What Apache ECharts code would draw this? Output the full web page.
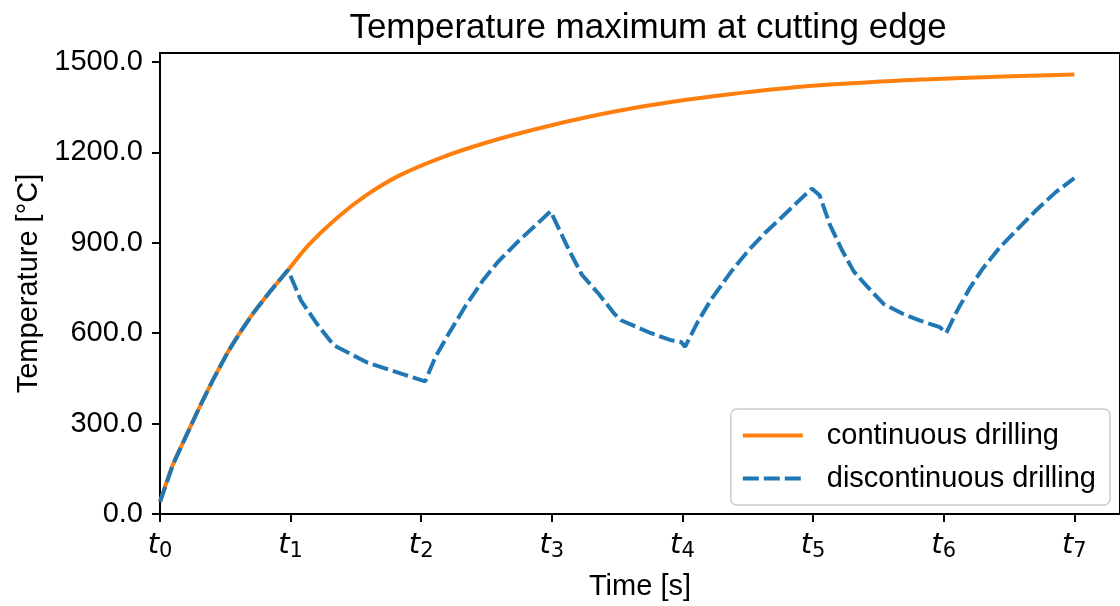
<!DOCTYPE html>
<html>
<head>
<meta charset="utf-8">
<script src="https://cdn.jsdelivr.net/npm/echarts@6/dist/echarts.min.js"></script>
<style>
  html, body { margin: 0; padding: 0; background: #fff; }
  #chart { width: 1120px; height: 606px; }
</style>
</head>
<body>
<div id="chart"></div>
<script>
// continuous drilling (orange)
const contTime = [0, 0.1, 0.2, 0.3, 0.4, 0.52, 0.62, 0.72, 0.84, 0.98, 1.14, 1.35, 1.58, 1.83, 2.16, 2.54, 2.92, 3.3, 3.66, 4.12, 4.88, 5.64, 6.4, 7.0];
const contTemp = [40, 165, 259, 352, 440, 538, 607, 670, 737, 810, 894, 981, 1058, 1123, 1184, 1238, 1282, 1320, 1350, 1380, 1417, 1438, 1451, 1459];

// discontinuous drilling (blue, dashed)
const discTime = [0, 0.1, 0.2, 0.3, 0.4, 0.52, 0.62, 0.72, 0.84, 0.98, 1.08, 1.21, 1.33, 1.59, 1.84, 2.03, 2.11, 2.21, 2.34, 2.47, 2.59, 2.75, 2.9, 2.99, 3.13, 3.23, 3.36, 3.48, 3.53, 3.76, 3.91, 3.99, 4.02, 4.12, 4.22, 4.37, 4.5, 4.63, 4.76, 4.88, 4.99, 5.05, 5.13, 5.22, 5.31, 5.41, 5.54, 5.69, 5.82, 5.97, 6.02, 6.1, 6.2, 6.3, 6.43, 6.56, 6.71, 6.86, 7.0];
const discTemp = [40, 165, 259, 352, 440, 538, 607, 670, 737, 810, 708, 626, 560, 502, 467, 440, 522, 598, 691, 774, 838, 908, 968, 1005, 877, 794, 730, 664, 643, 600, 577, 571, 555, 640, 712, 803, 872, 932, 985, 1035, 1080, 1058, 959, 877, 806, 757, 697, 664, 642, 620, 601, 672, 750, 815, 885, 943, 1009, 1069, 1115];

const xTicks = [0, 1, 2, 3, 4, 5, 6, 7];
const yTicks = [0, 300, 600, 900, 1200, 1500];

const seriesNames = ["continuous drilling", "discontinuous drilling"];

const font = '"Liberation Sans", Arial, sans-serif';
const mathFont = '"DejaVu Sans", sans-serif';

function zip(xs, ys) {
  return xs.map((x, i) => [x, ys[i]]);
}

const chart = echarts.init(document.getElementById("chart"), null, { renderer: "canvas" });

chart.setOption({
  animation: false,
  backgroundColor: "#ffffff",
  title: {
    text: "Temperature maximum at cutting edge",
    left: 643,
    top: 6,
    textAlign: "center",
    textStyle: { fontFamily: font, fontSize: 35, fontWeight: "normal", color: "#000" },
  },
  grid: {
    left: 160,
    right: -4,
    top: 53,
    bottom: 87,
    show: true,
    borderColor: "#000",
    borderWidth: 2,
  },
  legend: {
    orient: "vertical",
    right: 10,
    bottom: 101,
    data: seriesNames,
    itemWidth: 60,
    itemHeight: 27,
    itemGap: 14,
    padding: [12, 14, 12, 10],
    backgroundColor: "rgba(255,255,255,0.8)",
    borderColor: "#cccccc",
    borderWidth: 1.5,
    borderRadius: 6,
    itemStyle: { opacity: 0 },
    lineStyle: { width: 4 },
    textStyle: { fontFamily: font, fontSize: 29, lineHeight: 27, color: "#000", padding: [0, 0, 0, 19] },
  },
  xAxis: {
    type: "value",
    min: 0,
    max: 7.35,
    interval: 1,
    name: "Time [s]",
    nameLocation: "middle",
    nameGap: 58,
    nameTextStyle: { fontFamily: font, fontSize: 29, color: "#000" },
    splitLine: { show: false },
    axisLine: { show: true, onZero: false, lineStyle: { color: "#000", width: 2 } },
    axisTick: { show: true, length: 8, lineStyle: { color: "#000", width: 2 }, customValues: xTicks },
    axisLabel: {
      customValues: xTicks,
      margin: 15,
      formatter: (v) => "{t|t}{s|" + v + "}",
      rich: {
        t: { fontFamily: mathFont, fontStyle: "italic", fontSize: 29, color: "#000" },
        s: { fontFamily: mathFont, fontSize: 21, color: "#000", padding: [12, 0, 0, 0] },
      },
    },
  },
  yAxis: {
    type: "value",
    min: 0,
    max: 1530,
    interval: 300,
    name: "Temperature [°C]",
    nameLocation: "middle",
    nameRotate: 90,
    nameGap: 116,
    nameTextStyle: { fontFamily: font, fontSize: 29, color: "#000" },
    splitLine: { show: false },
    axisLine: { show: true, lineStyle: { color: "#000", width: 2 } },
    axisTick: { show: true, length: 8, lineStyle: { color: "#000", width: 2 }, customValues: yTicks },
    axisLabel: {
      customValues: yTicks,
      margin: 17,
      fontFamily: font,
      fontSize: 29,
      color: "#000",
      formatter: (v) => v.toFixed(1),
    },
  },
  series: [
    {
      name: seriesNames[0],
      type: "line",
      data: zip(contTime, contTemp),
      symbol: "none",
      smooth: 0.3,
      color: "#ff7f0e",
      lineStyle: { color: "#ff7f0e", width: 4 },
    },
    {
      name: seriesNames[1],
      type: "line",
      data: zip(discTime, discTemp),
      symbol: "none",
      color: "#1f77b4",
      lineStyle: { color: "#1f77b4", width: 4, type: [16, 5] },
    },
  ],
});
</script>
</body>
</html>
